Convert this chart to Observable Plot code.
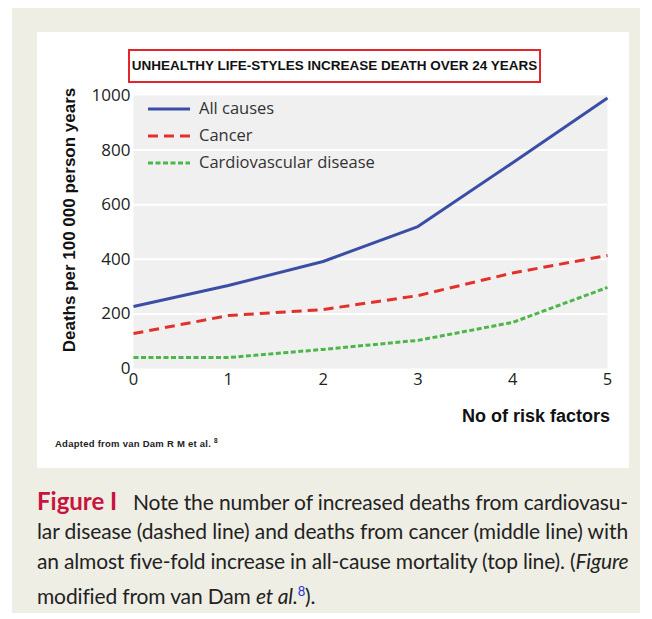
<!DOCTYPE html>
<html>
<head>
<meta charset="utf-8">
<script src="https://cdn.jsdelivr.net/npm/d3@7"></script>
<script src="https://cdn.jsdelivr.net/npm/@observablehq/plot@0.6"></script>
<style>
  html, body { margin: 0; padding: 0; background: #fff; }
  #page { position: relative; width: 652px; height: 619px; overflow: hidden; }
  #panel { position: absolute; left: 12px; top: 8px; width: 628px; height: 605px; background: #efeee5; }
  #card { position: absolute; left: 37px; top: 32px; width: 592px; height: 436px; background: #fff; }
  #chart { position: absolute; left: 37px; top: 32px; }
  #title { position: absolute; left: 128px; top: 49px; width: 409px; height: 30px; border: 2px solid #e3262a;
           font-family: "Liberation Sans Narrow", "Liberation Sans", Arial, sans-serif; font-weight: bold; font-size: 13.5px;
           line-height: 30px; text-align: center; color: #111; white-space: nowrap; }
  #ytitle { position: absolute; left: 70px; top: 220px; transform: translate(-50%, -50%) rotate(-90deg);
            font-family: "Liberation Sans", Arial, sans-serif; font-weight: bold; font-size: 17px; color: #111; white-space: nowrap; }
  #xtitle { position: absolute; right: 42px; top: 406px; font-family: "Liberation Sans", Arial, sans-serif;
            font-weight: bold; font-size: 18px; color: #111; white-space: nowrap; }
  #source { position: absolute; left: 55px; top: 437px; font-family: "Liberation Sans", Arial, sans-serif;
            font-weight: bold; font-size: 9.5px; letter-spacing: 0.25px; color: #222; white-space: nowrap; }
  #source sup { font-size: 6.5px; }
  #legend { position: absolute; left: 146px; top: 96px; font-family: "Open Sans", sans-serif; font-size: 16.5px; color: #333; }
  .lg { position: relative; height: 27px; line-height: 24px; white-space: nowrap; }
  .lg svg { position: absolute; left: 0; top: 10px; }
  .lg span { position: absolute; left: 53px; top: 0; }
  #caption { position: absolute; left: 37px; top: 486px; width: 600px; font-family: Lato, "Open Sans", sans-serif;
             font-size: 21px; line-height: 30px; color: #222; }
  #caption .ln { white-space: nowrap; height: 30px; }
  #caption .ln span { display: inline-block; }
  #caption b { color: #c8143c; font-size: 24px; }
  #caption sup { color: #2030e0; font-size: 13px; }
</style>
</head>
<body>
<div id="page">
  <div id="panel"></div>
  <div id="card"></div>
  <div id="chart"></div>
  <div id="title">UNHEALTHY LIFE-STYLES INCREASE DEATH OVER 24 YEARS</div>
  <div id="ytitle">Deaths per 100 000 person years</div>
  <div id="xtitle">No of risk factors</div>
  <div id="source">Adapted from van Dam R M et al. <sup>8</sup></div>
  <div id="legend"></div>
  <div id="caption">
    <div class="ln"><b>Figure I</b><span id="first" data-w="495">Note the number of increased deaths from cardiovasu-</span></div>
    <div class="ln"><span data-w="591">lar disease (dashed line) and deaths from cancer (middle line) with</span></div>
    <div class="ln"><span data-w="591">an almost five-fold increase in all-cause mortality (top line). (<i>Figure</i></span></div>
    <div class="ln"><span data-w="278">modified from van Dam <i>et al.</i><sup>8</sup>).</span></div>
  </div>
</div>
<script>
const riskFactors = [0, 1, 2, 3, 4, 5];
const allCauses = [227, 304, 392, 520, 754, 991];
const cancer = [128, 194, 216, 267, 350, 414];
const cardiovascular = [40, 40, 70, 103, 169, 297];
const yTicks = [0, 200, 400, 600, 800, 1000];
const seriesNames = ["All causes", "Cancer", "Cardiovascular disease"];
const seriesColors = ["#3a4ea6", "#e2312b", "#4cb748"];
const seriesDash = [null, "10,6", "5,2.5"];

const seriesValues = [allCauses, cancer, cardiovascular];
const table = seriesValues.flatMap((vals, s) =>
  riskFactors.map((x, i) => ({ x, y: vals[i], series: seriesNames[s] })));

const plot = Plot.plot({
  width: 592,
  height: 436,
  marginLeft: 96,
  marginRight: 22,
  marginTop: 63,
  marginBottom: 100,
  style: { fontFamily: "'Open Sans', sans-serif", fontSize: "16px", color: "#222", background: "transparent" },
  x: { domain: [0, 5], label: null },
  y: { domain: [0, 1000], label: null },
  marks: [
    Plot.frame({ fill: "#f0f0f0", stroke: null }),
    Plot.gridY(yTicks.slice(1, -1), { stroke: "#fff", strokeOpacity: 1, strokeWidth: 2 }),
    Plot.axisY(yTicks, { tickSize: 0, tickPadding: 3, label: null, fontSize: 17, tickFormat: d => String(d) }),
    Plot.axisX(riskFactors, { tickSize: 0, tickPadding: 5, label: null, fontSize: 16.5, tickFormat: d => String(d) }),
    ...seriesNames.map((name, s) =>
      Plot.line(table.filter(d => d.series === name), {
        x: "x", y: "y", stroke: seriesColors[s], strokeWidth: 3,
        strokeDasharray: seriesDash[s] || undefined, strokeLinecap: "butt", strokeLinejoin: "round"
      }))
  ]
});
document.getElementById("chart").appendChild(plot);

const legend = document.getElementById("legend");
seriesNames.forEach((name, s) => {
  const row = document.createElement("div");
  row.className = "lg";
  row.innerHTML = `<svg width="46" height="6"><line x1="2" y1="3" x2="44" y2="3" stroke="${seriesColors[s]}" stroke-width="3" ${seriesDash[s] ? `stroke-dasharray="${seriesDash[s]}"` : ""}/></svg><span>${name}</span>`;
  legend.appendChild(row);
});

// start the first caption line's text where the reference does
const first = document.getElementById("first");
const bW = document.querySelector("#caption b").getBoundingClientRect().width;
first.style.marginLeft = (96 - bW) + "px";

// fit caption lines to the widths seen in the reference via letter-spacing
document.querySelectorAll("#caption .ln span").forEach(sp => {
  const target = +sp.dataset.w;
  const w = sp.getBoundingClientRect().width;
  const n = sp.textContent.length;
  sp.style.letterSpacing = ((target - w) / n) + "px";
});
</script>
</body>
</html>
